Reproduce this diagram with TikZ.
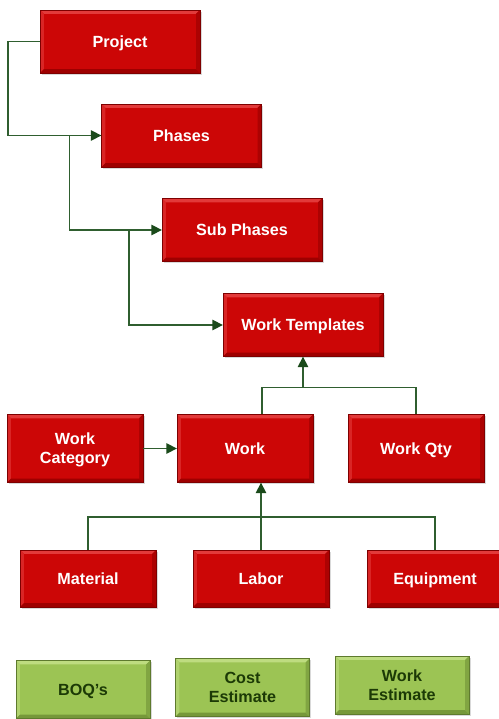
\documentclass[tikz,border=0pt]{standalone}
\usepackage{fontspec}
\setmainfont{Liberation Sans}
\usetikzlibrary{arrows.meta,shadows,calc}
\definecolor{redface}{HTML}{CC0606}
\definecolor{redlight}{HTML}{E23A3A}
\definecolor{reddark}{HTML}{9E0000}
\definecolor{grnface}{HTML}{9CC454}
\definecolor{grnlight}{HTML}{BEDC80}
\definecolor{grndark}{HTML}{76983A}
\definecolor{grntext}{HTML}{1C3A06}
\definecolor{linkclr}{HTML}{2F5E2F}
\definecolor{tipclr}{HTML}{1A4A1A}
\tikzset{
  bevelbox/.style n args={3}{
    rectangle, inner sep=0pt, align=center, text depth=0pt,
    font=\fontsize{9.2}{10.8}\selectfont\bfseries,
    fill=#1, draw=#3!80!black, line width=0.2pt,
    drop shadow={opacity=0.3, shadow xshift=0.9pt, shadow yshift=-1.1pt},
    path picture={
      \def\bw{2.2pt}
      \coordinate (NW) at (path picture bounding box.north west);
      \coordinate (NE) at (path picture bounding box.north east);
      \coordinate (SW) at (path picture bounding box.south west);
      \coordinate (SE) at (path picture bounding box.south east);
      \fill[#2] (NW) -- (NE) -- ($(NE)+(-\bw,-\bw)$) -- ($(NW)+(\bw,-\bw)$) -- cycle;
      \fill[#2!60!#1] (NW) -- (SW) -- ($(SW)+(\bw,\bw)$) -- ($(NW)+(\bw,-\bw)$) -- cycle;
      \fill[#3!70!#1] (NE) -- (SE) -- ($(SE)+(-\bw,\bw)$) -- ($(NE)+(-\bw,-\bw)$) -- cycle;
      \fill[#3] (SW) -- (SE) -- ($(SE)+(-\bw,\bw)$) -- ($(SW)+(\bw,\bw)$) -- cycle;
    }},
  redbox/.style={bevelbox={redface}{redlight}{reddark}, text=white},
  grnbox/.style={bevelbox={grnface}{grnlight}{grndark}, text=grntext},
  topsize/.style={minimum width=3.2cm, minimum height=1.26cm},
  midsize/.style={minimum width=2.72cm, minimum height=1.36cm},
  lowsize/.style={minimum width=2.72cm, minimum height=1.14cm},
  grnsize/.style={minimum width=2.68cm, minimum height=1.16cm},
  link/.style={draw=linkclr, line width=0.85pt},
  arr/.style={link, -{Triangle[length=6pt, width=6pt, color=tipclr]}},
}
\begin{document}
\begin{tikzpicture}[x=0.02cm, y=-0.02cm]
  \useasboundingbox (0,0) rectangle (498,719);

  % hierarchy
  \node[redbox, topsize] (proj)   at (120,41.5)  {Project};
  \node[redbox, topsize] (phases) at (181.5,135.5) {Phases};
  \node[redbox, topsize] (sub)    at (242,230)   {Sub Phases};
  \node[redbox, topsize] (tmpl)   at (303,325)   {Work Templates};

  % work row
  \node[redbox, midsize] (wcat) at (75,448.5)  {Work\\Category};
  \node[redbox, midsize] (work) at (245,448.5) {Work};
  \node[redbox, midsize] (wq)   at (416,448.5) {Work Qty};

  % resources
  \node[redbox, lowsize] (mat) at (88,578.5)  {Material};
  \node[redbox, lowsize] (lab) at (261,578.5) {Labor};
  \node[redbox, lowsize] (eq)  at (435,578.5) {Equipment};

  % outputs
  \node[grnbox, grnsize] (boq)  at (83,689.5)  {BOQ's};
  \node[grnbox, grnsize] (cost) at (242.5,687.5) {Cost\\Estimate};
  \node[grnbox, grnsize] (west) at (402,685)   {Work\\Estimate};

  % connectors
  \coordinate (j1) at ($(phases.west)+(-32,0)$);
  \coordinate (j2) at ($(sub.west)+(-33,0)$);
  \draw[arr] (proj.west) -- ++(-32,0) |- (phases.west);
  \draw[arr] (j1) |- (sub.west);
  \draw[arr] (j2) |- (tmpl.west);

  \draw[link] ([xshift=0.34cm]work.north) -- ++(0,-27) -| (wq.north);
  \draw[arr] (tmpl.south |- 0,387) -- (tmpl.south);

  \draw[arr] (wcat.east) -- (work.west);

  \draw[link] (mat.north) -- ++(0,-33) -| (eq.north);
  \draw[arr] (lab.north) -- (lab.north |- work.south);
\end{tikzpicture}
\end{document}
